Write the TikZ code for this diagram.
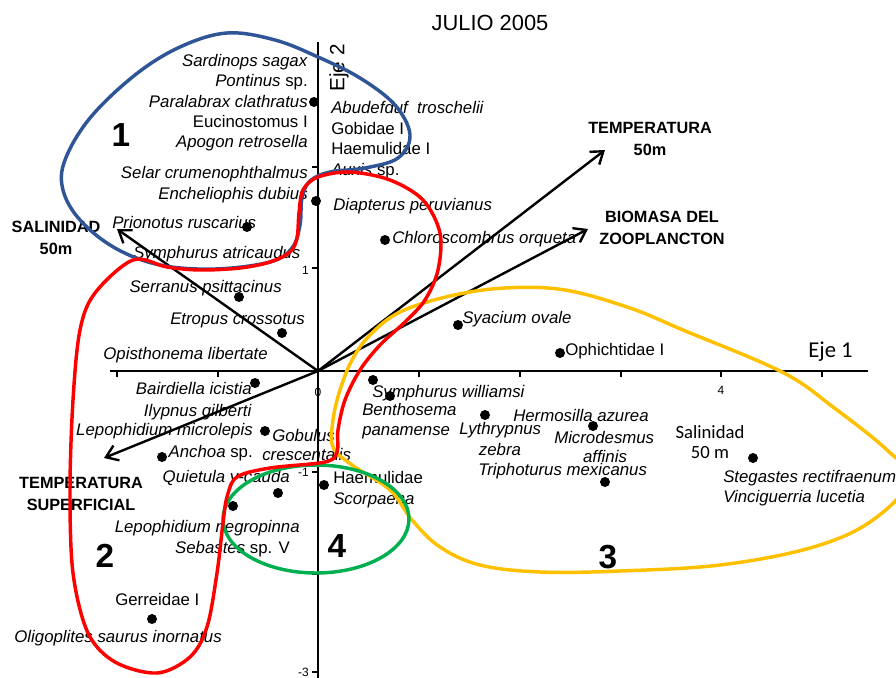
\documentclass[tikz,border=0pt]{standalone}
\usepackage{fontspec}
\setmainfont{Liberation Sans}
\newfontfamily\calfont{Carlito}
\usetikzlibrary{arrows.meta}

\definecolor{grpblue}{RGB}{47,85,151}
\definecolor{grpred}{RGB}{255,0,0}
\definecolor{grpyellow}{RGB}{255,192,0}
\definecolor{grpgreen}{RGB}{0,176,80}

\tikzset{
  lab/.style={inner sep=0pt, font=\fontsize{12.6}{15}\selectfont},
  fact/.style={inner sep=0pt, align=center, font=\bfseries\fontsize{12.2}{16.5}\selectfont},
  grp/.style={inner sep=0pt, font=\bfseries\fontsize{25}{25}\selectfont},
  dot/.style={circle, fill=black, inner sep=0pt, minimum size=7.5pt},
  vec/.style={line width=1.8pt, -{Straight Barb[length=8.5pt,width=12pt]}},
  axtick/.style={line width=0.9pt},
  ticklab/.style={inner sep=0pt, font=\fontsize{9}{10}\selectfont},
  grpline/.style={line width=2.6pt}
}

\begin{document}
\begin{tikzpicture}[x=0.75pt, y=-0.75pt]
        \useasboundingbox (0,0) rectangle (896,678);

        % Axes
        \coordinate (o) at (318,371);
        \coordinate (xl) at (110,371);
        \coordinate (xr) at (868,371);
        \coordinate (yt) at (318,42);
        \coordinate (yb) at (318,678);
        \draw[line width=1.1pt] (xl) -- (xr); % Eje 1
        \draw[line width=1.1pt] (yt) -- (yb); % Eje 2
        \foreach \x in {117,218,419,520,621,721,822} {
            \draw[axtick] (\x,371) -- (\x,377); % ticks on Eje 1
        }
        \foreach \y in {167,268,472,574,672} {
            \draw[axtick] (312,\y) -- (318,\y); % ticks on Eje 2
        }
        \node[ticklab] (l0) at (318,392) {0};
        \node[ticklab] (l4) at (721,390) {4};
        \node[ticklab, anchor=east] (lp1) at (309,270) {1};
        \node[ticklab, anchor=east] (lm1) at (309,472) {-1};
        \node[ticklab, anchor=east] (lm3) at (309,672) {-3};

        \node[font=\fontsize{16.4}{18}\selectfont] (title) at (490,23) {JULIO 2005};
        \node[font=\calfont\fontsize{17}{20}\selectfont, anchor=base west, inner sep=0pt] (eje1) at (808,357) {Eje 1};
        \node[font=\fontsize{15.5}{18}\selectfont, rotate=90, inner sep=0pt] (eje2) at (339,68) {Eje 2};

        % Environmental vectors
        \coordinate (vt50) at (605,150);
        \coordinate (vbio) at (588,229);
        \coordinate (vsal) at (117,229);
        \coordinate (vtsup) at (104,458);
        \draw[vec] (o) -- (vt50);
        \draw[vec] (o) -- (vbio);
        \draw[vec] (o) -- (vsal);
        \draw[vec] (o) -- (vtsup);
        \node[fact] (temp50) at (650,139) {TEMPERATURA\\50m};
        \node[fact] (biomasa) at (662,228) {BIOMASA DEL\\ZOOPLANCTON};
        \node[fact] (sal50) at (56,238) {SALINIDAD\\50m};
        \node[fact] (tsup) at (81,494) {TEMPERATURA\\SUPERFICIAL};

        % Species, upper left
        \node[lab, anchor=base east] (sardinops) at (308,66) {\textit{Sardinops sagax}};
        \node[lab, anchor=base east] (pontinus) at (308,86) {\textit{Pontinus} sp.};
        \node[lab, anchor=base east] (paralabrax) at (308,107) {\textit{Paralabrax clathratus}};
        \node[lab, anchor=base east] (eucinostomus) at (308,127) {Eucinostomus I};
        \node[lab, anchor=base east] (apogon) at (308,147) {\textit{Apogon retrosella}};
        \node[lab, anchor=base east] (selar) at (308,178) {\textit{Selar crumenophthalmus}};
        \node[lab, anchor=base east] (encheliophis) at (308,199) {\textit{Encheliophis dubius}};
        \node[lab, anchor=base west] (prionotus) at (112,228) {\textit{Prionotus ruscarius}};
        \node[lab, anchor=base west] (symphurusa) at (133,258) {\textit{Symphurus atricaudus}};

        % Species, upper right
        \node[lab, anchor=base west] (abudefduf) at (331,113) {\textit{Abudefduf\ \ troschelii}};
        \node[lab, anchor=base west] (gobidae) at (331,134) {Gobidae I};
        \node[lab, anchor=base west] (haemulidaeI) at (331,154) {Haemulidae I};
        \node[lab, anchor=base west] (auxis) at (331,175) {\textit{Auxis} sp.};
        \node[lab, anchor=base west] (diapterus) at (333,210) {\textit{Diapterus peruvianus}};
        \node[lab, anchor=base west] (chloroscombrus) at (392,243) {\textit{Chloroscombrus orqueta}};

        % Species, lower left
        \node[lab, anchor=base east] (serranus) at (282,292) {\textit{Serranus psittacinus}};
        \node[lab, anchor=base east] (etropus) at (305,324) {\textit{Etropus crossotus}};
        \node[lab, anchor=base east] (opisthonema) at (268,359) {\textit{Opisthonema libertate}};
        \node[lab, anchor=base east] (bairdiella) at (252,394) {\textit{Bairdiella icistia}};
        \node[lab, anchor=base east] (ilypnus) at (252,416) {\textit{Ilypnus gilberti}};
        \node[lab, anchor=base east] (lepomicro) at (253,435) {\textit{Lepophidium microlepis}};
        \node[lab, anchor=base east] (anchoa) at (253,457) {\textit{Anchoa} sp.};
        \node[lab, anchor=base west] (gobulus) at (272,441) {\textit{Gobulus}};
        \node[lab, anchor=base west] (crescentalis) at (262,460) {\textit{crescentalis}};
        \node[lab, anchor=base east] (quietula) at (290,482) {\textit{Quietula y-cauda}};
        \node[lab, anchor=base east] (leponegro) at (300,532) {\textit{Lepophidium negropinna}};
        \node[lab, anchor=base east] (sebastes) at (290,553) {\textit{Sebastes} sp. V};
        \node[lab, anchor=base west] (gerreidae) at (115,605) {Gerreidae I};
        \node[lab, anchor=base east] (oligoplites) at (222,642) {\textit{Oligoplites saurus inornatus}};

        % Species, lower right
        \node[lab, anchor=base west] (syacium) at (462,323) {\textit{Syacium ovale}};
        \node[lab, anchor=base west] (ophichtidae) at (565,355) {Ophichtidae I};
        \node[lab, anchor=base west] (symphurusw) at (372,397) {\textit{Symphurus williamsi}};
        \node[lab, anchor=base west] (benthosema) at (362,415) {\textit{Benthosema}};
        \node[lab, anchor=base west] (panamense) at (362,435) {\textit{panamense}};
        \node[lab, anchor=base west] (lythrypnus) at (459,434) {\textit{Lythrypnus}};
        \node[lab, anchor=base] (zebra) at (500,455) {\textit{zebra}};
        \node[lab, anchor=base west] (hermosilla) at (513,421) {\textit{Hermosilla azurea}};
        \node[lab, anchor=base west] (microdesmus) at (554,443) {\textit{Microdesmus}};
        \node[lab, anchor=base] (affinis) at (605,462) {\textit{affinis}};
        \node[lab, anchor=base west] (triphoturus) at (478,475) {\textit{Triphoturus mexicanus}};
        \node[lab, anchor=base west] (haemulidae) at (333,483) {Haemulidae};
        \node[lab, anchor=base west] (scorpaena) at (333,504) {\textit{Scorpaena}};
        \node[inner sep=0pt, align=center, font=\calfont\fontsize{14}{15}\selectfont] (salinidad) at (710,442) {Salinidad\\50 m};
        \node[lab, anchor=base west] (stegastes) at (723,482) {\textit{Stegastes rectifraenum}};
        \node[lab, anchor=base west] (vinciguerria) at (723,502) {\textit{Vinciguerria lucetia}};

        % Scores
        \node[dot] (d1) at (314,102) {};
        \node[dot] (d2) at (316,201) {};
        \node[dot] (d3) at (247,227) {};
        \node[dot] (d4) at (385,240) {};
        \node[dot] (d5) at (239,297) {};
        \node[dot] (d6) at (282,333) {};
        \node[dot] (d7) at (458,325) {};
        \node[dot] (d8) at (560,353) {};
        \node[dot] (d9) at (255,383) {};
        \node[dot] (d10) at (373,380) {};
        \node[dot] (d11) at (390,396) {};
        \node[dot] (d12) at (265,431) {};
        \node[dot] (d13) at (162,457) {};
        \node[dot] (d14) at (485,415) {};
        \node[dot] (d15) at (593,426) {};
        \node[dot] (d16) at (605,482) {};
        \node[dot] (d17) at (753,458) {};
        \node[dot] (d18) at (324,485) {};
        \node[dot] (d19) at (278,493) {};
        \node[dot] (d20) at (233,506) {};
        \node[dot] (d21) at (152,619) {};

        % Groups
        \draw[grpblue, grpline] plot[smooth cycle, tension=0.6] coordinates {
            (227,33) (275,40) (318,57) (360,78) (395,105) (410,135) (398,158)
            (365,168) (330,172) (310,181) (302,198) (300,225) (292,248) (270,262)
            (215,269) (160,265) (115,248) (80,220) (63,190) (65,160) (90,118)
            (135,75) (180,47)};
        \draw[grpyellow, grpline] plot[smooth cycle, tension=0.6] coordinates {
            (333,447) (352,465) (390,490) (412,520) (440,547) (480,565) (540,572)
            (620,571) (720,565) (810,548) (870,522) (910,480) (887,450) (833,407)
            (782,372) (683,330) (630,308) (565,290) (505,288) (450,296) (400,312)
            (370,335) (352,360) (340,390) (333,420)};
        \draw[grpgreen, grpline] (316,519) ellipse [x radius=69.75pt, y radius=40.5pt];
        \draw[grpred, grpline] plot[smooth cycle, tension=0.55] coordinates {
            (303,190) (318,177) (350,172) (390,180) (423,200) (440,233) (438,270)
            (425,300) (405,322) (380,345) (360,370) (345,400) (338,430) (337,452)
            (325,462) (270,468) (237,477) (227,497) (223,523) (217,573) (207,627)
            (190,657) (157,673) (115,662) (88,633) (73,573) (70,490) (73,400)
            (80,330) (95,293) (133,260) (167,267) (200,270) (240,268) (270,262)
            (290,252) (297,238) (299,213)};

        \node[grp] (g1) at (121,135) {1};
        \node[grp] (g2) at (105,556) {2};
        \node[grp] (g3) at (608,557) {3};
        \node[grp] (g4) at (337,546) {4};

\end{tikzpicture}
\end{document}
